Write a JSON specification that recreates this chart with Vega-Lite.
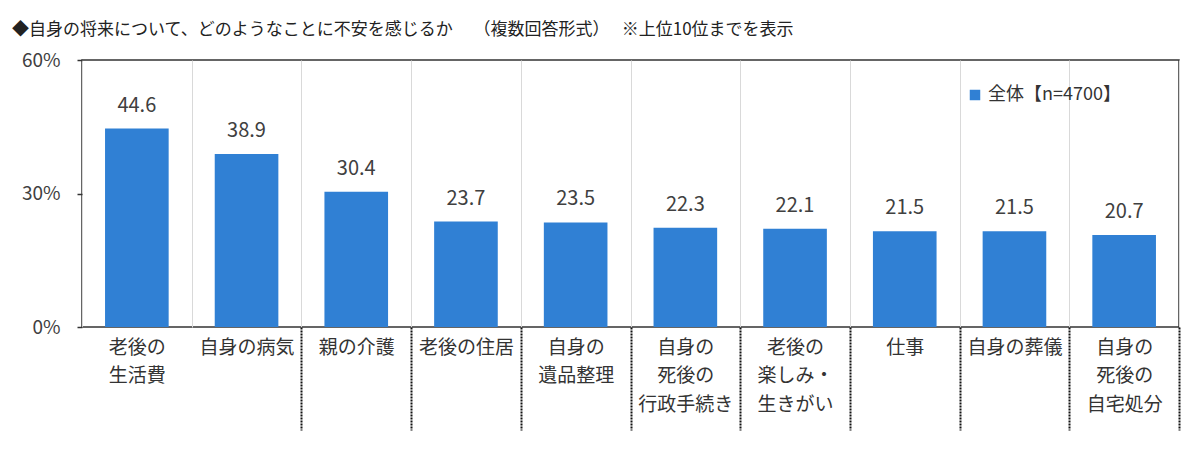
{
  "$schema": "https://vega.github.io/schema/vega-lite/v6.json",
  "width": 1097,
  "height": 267,
  "autosize": {"type": "none"},
  "padding": {"left": 82, "top": 60, "right": 21, "bottom": 126},
  "background": "white",
  "title": {
    "text": "◆自身の将来について、どのようなことに不安を感じるか　 （複数回答形式）　  ※上位10位までを表示",
    "anchor": "start",
    "frame": "group",
    "dx": -70,
    "offset": 12,
    "fontSize": 17,
    "fontWeight": "normal",
    "color": "#222",
    "font": "Noto Sans CJK JP"
  },
  "data": {
    "values": [
      {"item": "老後の|生活費", "pct": 44.6},
      {"item": "自身の病気", "pct": 38.9},
      {"item": "親の介護", "pct": 30.4},
      {"item": "老後の住居", "pct": 23.7},
      {"item": "自身の|遺品整理", "pct": 23.5},
      {"item": "自身の|死後の|行政手続き", "pct": 22.3},
      {"item": "老後の|楽しみ・|生きがい", "pct": 22.1},
      {"item": "仕事", "pct": 21.5},
      {"item": "自身の葬儀", "pct": 21.5},
      {"item": "自身の|死後の|自宅処分", "pct": 20.7}
    ]
  },
  "encoding": {
    "x": {
      "field": "item",
      "type": "nominal",
      "sort": null,
      "title": null,
      "scale": {"paddingInner": 0, "paddingOuter": 0},
      "axis": {
        "tickBand": "extent",
        "labelExpr": "split(datum.label, '|')",
        "labelAngle": 0,
        "labelFontSize": 19,
        "labelLineHeight": 28.5,
        "labelColor": "#333",
        "labelFont": "Noto Sans CJK JP",
        "labelPadding": -92,
        "labelBaseline": "top",
        "tickSize": 103,
        "tickColor": "#111",
        "tickWidth": 2,
        "tickDash": [2, 1],
        "tickOpacity": {"condition": {"test": "datum.index <= 0", "value": 0}, "value": 1},
        "grid": true,
        "gridColor": "#d9d9d9",
        "gridWidth": 1,
        "domain": false
      }
    },
    "y": {
      "field": "pct",
      "type": "quantitative",
      "title": null,
      "scale": {"domain": [0, 60], "nice": false},
      "axis": {
        "values": [0, 30, 60],
        "labelExpr": "datum.value + '%'",
        "labelFontSize": 19,
        "labelColor": "#404040",
        "labelFont": "Noto Sans CJK JP",
        "labelPadding": 17,
        "tickSize": 5,
        "tickColor": "#333",
        "tickWidth": 1.5,
        "grid": false,
        "domain": false
      }
    }
  },
  "layer": [
    {
      "mark": {"type": "bar", "width": {"band": 0.58}},
      "encoding": {
        "color": {
          "datum": "全体【n=4700】",
          "type": "nominal",
          "scale": {"range": ["#3080d4"]},
          "legend": {
            "title": null,
            "orient": "none",
            "legendX": 884,
            "legendY": 26,
            "symbolType": "square",
            "symbolSize": 110,
            "symbolStrokeWidth": 0,
            "labelFontSize": 18,
            "labelColor": "#333",
            "labelFont": "Noto Sans CJK JP",
            "labelOffset": 4
          }
        }
      }
    },
    {
      "mark": {
        "type": "text",
        "dy": -23,
        "fontSize": 20,
        "color": "#404040",
        "font": "Noto Sans CJK JP"
      },
      "encoding": {
        "text": {"field": "pct", "type": "quantitative", "format": ".1f"}
      }
    }
  ],
  "config": {
    "view": {"stroke": "#333", "strokeWidth": 1.5}
  }
}
